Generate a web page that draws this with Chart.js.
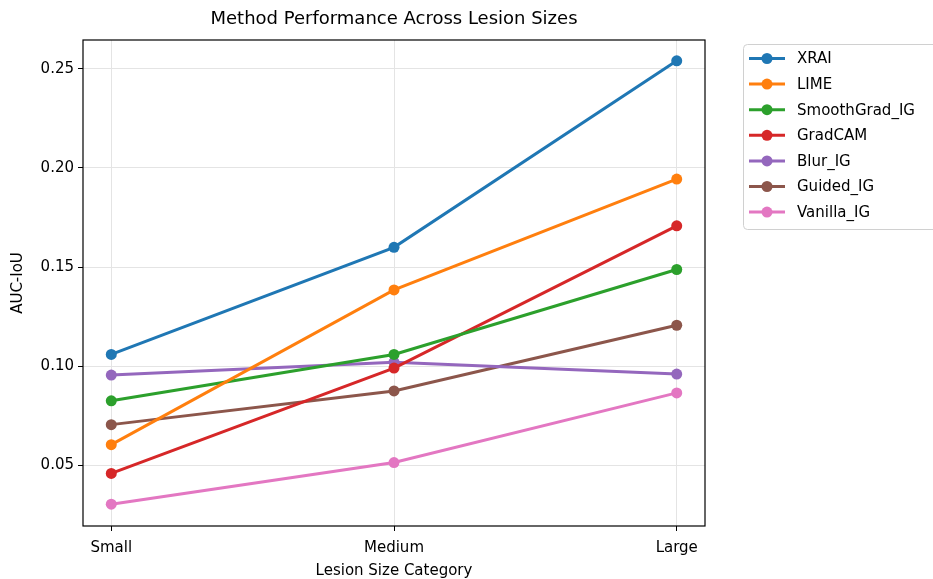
<!DOCTYPE html>
<html>
<head>
<meta charset="utf-8">
<script src="https://cdn.jsdelivr.net/npm/chart.js@4"></script>
<style>
  body { margin: 0; background: #fff; }
  #wrap { width: 933px; height: 579px; }
</style>
</head>
<body>
<div id="wrap"><canvas id="chart" width="933" height="579"></canvas></div>
<script>
// data
const categories = ['Small', 'Medium', 'Large'];
const methods = ['XRAI', 'LIME', 'SmoothGrad_IG', 'GradCAM', 'Blur_IG', 'Guided_IG', 'Vanilla_IG'];
const xrai = [0.106, 0.160, 0.254];
const lime = [0.0605, 0.1385, 0.1944];
const smoothGrad = [0.0826, 0.106, 0.1488];
const gradCam = [0.046, 0.0991, 0.1708];
const blurIg = [0.0956, 0.1021, 0.0961];
const guidedIg = [0.0706, 0.0876, 0.1207];
const vanillaIg = [0.0305, 0.0515, 0.0866];
const yTicks = [0.05, 0.10, 0.15, 0.20, 0.25];

const colors = ['#1f77b4', '#ff7f0e', '#2ca02c', '#d62728', '#9467bd', '#8c564b', '#e377c2'];
const series = [xrai, lime, smoothGrad, gradCam, blurIg, guidedIg, vanillaIg];
const FONT = "'DejaVu Sans', sans-serif";

const datasets = series.map((vals, i) => ({
  label: methods[i],
  data: vals.map((v, j) => ({ x: j, y: v })),
  borderColor: colors[i],
  backgroundColor: colors[i],
  borderWidth: 3,
  pointRadius: 5.5,
  pointHoverRadius: 5.5,
  pointBorderWidth: 0
}));

// title, frame and legend drawn by hand
const extras = {
  id: 'extras',
  afterDraw(chart) {
    const ctx = chart.ctx;
    const a = chart.chartArea;
    ctx.save();
    ctx.strokeStyle = '#000';
    ctx.lineWidth = 1.2;
    ctx.strokeRect(a.left, a.top, a.right - a.left, a.bottom - a.top);

    ctx.fillStyle = '#000';
    ctx.font = '18px ' + FONT;
    ctx.textAlign = 'center';
    ctx.textBaseline = 'middle';
    ctx.fillText('Method Performance Across Lesion Sizes', (a.left + a.right) / 2, 19);

    // legend
    ctx.strokeStyle = '#d0d0d0';
    ctx.lineWidth = 1;
    ctx.beginPath();
    ctx.roundRect(743.5, 44.5, 200, 185, 4);
    ctx.stroke();
    ctx.font = '15px ' + FONT;
    ctx.textAlign = 'left';
    chart.data.datasets.forEach((ds, i) => {
      const y = 58.5 + i * 25.6;
      ctx.strokeStyle = ds.borderColor;
      ctx.lineWidth = 3;
      ctx.beginPath();
      ctx.moveTo(749, y);
      ctx.lineTo(785, y);
      ctx.stroke();
      ctx.fillStyle = ds.borderColor;
      ctx.beginPath();
      ctx.arc(767, y, 5.5, 0, Math.PI * 2);
      ctx.fill();
      ctx.fillStyle = '#000';
      ctx.fillText(ds.label, 797, y + 1);
    });
    ctx.restore();
  }
};

new Chart(document.getElementById('chart'), {
  type: 'line',
  data: { datasets },
  options: {
    responsive: false,
    animation: false,
    layout: { padding: { left: 0, right: 228, top: 40, bottom: 0 } },
    plugins: { legend: { display: false }, tooltip: { enabled: false } },
    scales: {
      x: {
        type: 'linear',
        min: -0.1,
        max: 2.1,
        afterBuildTicks: s => { s.ticks = categories.map((c, i) => ({ value: i })); },
        afterFit: s => { s.height = 53; },
        ticks: {
          callback: v => categories[v],
          color: '#000',
          font: { family: FONT, size: 15 },
          padding: 8,
          maxRotation: 0
        },
        grid: { color: '#e4e4e4', tickColor: '#000', tickLength: 5 },
        border: { display: false },
        title: {
          display: true,
          text: 'Lesion Size Category',
          color: '#000',
          font: { family: FONT, size: 15 },
          padding: { top: 0, bottom: -1 }
        }
      },
      y: {
        min: 0.0195,
        max: 0.2645,
        afterBuildTicks: s => { s.ticks = yTicks.map(v => ({ value: v })); },
        afterFit: s => { s.width = 83; },
        ticks: {
          callback: v => v.toFixed(2),
          color: '#000',
          font: { family: FONT, size: 15 },
          padding: 4
        },
        grid: { color: '#e4e4e4', tickColor: '#000', tickLength: 5 },
        border: { display: false },
        title: {
          display: true,
          text: 'AUC-IoU',
          color: '#000',
          font: { family: FONT, size: 15 },
          padding: { top: 9, bottom: 0 }
        }
      }
    }
  },
  plugins: [extras]
});
</script>
</body>
</html>
